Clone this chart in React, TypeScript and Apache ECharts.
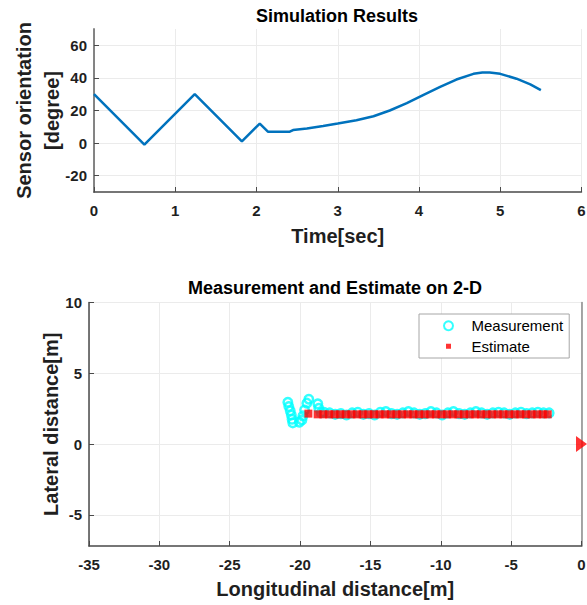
import React, { useEffect, useRef } from "react";
import * as echarts from "echarts";

// ---- Top plot data ----
const timeSec = [0, 0.62, 1.24, 1.82, 2.04, 2.14, 2.41, 2.45, 2.62, 2.82, 3.0, 3.23, 3.44, 3.64, 3.85, 4.05, 4.26, 4.46, 4.67, 4.78, 4.87, 5.0, 5.2, 5.37, 5.5];
const orientationDeg = [30, -1, 30, 1, 12, 7, 7, 8, 9, 10.5, 12, 14, 16.5, 20, 24.5, 29.5, 34.5, 39, 42.5, 43.3, 43.3, 42.5, 39.5, 36, 32.5];
const timeTicks = [0, 1, 2, 3, 4, 5, 6];
const orientationTicks = [-20, 0, 20, 40, 60];

// ---- Bottom plot data ----
const measurementPoints: [number, number][] = [
  [-20.87, 2.95], [-20.8, 2.65], [-20.7, 2.35], [-20.62, 2.05], [-20.57, 1.75], [-20.52, 1.5],
  [-20.05, 1.55], [-19.87, 1.7], [-19.8, 1.99], [-19.68, 2.41], [-19.52, 2.89], [-19.38, 3.17],
  [-18.74, 2.84], [-18.67, 2.53], [-18.5, 2.22],
  [-18.3, 2.25], [-17.9, 2.2], [-17.5, 2.1], [-17.1, 2.15], [-16.7, 2.05], [-16.3, 2.2],
  [-15.9, 2.25], [-15.5, 2.1], [-15.1, 2.15], [-14.7, 2.05], [-14.3, 2.25], [-13.9, 2.3],
  [-13.5, 2.15], [-13.1, 2.1], [-12.7, 2.2], [-12.3, 2.3], [-11.9, 2.2], [-11.5, 2.1],
  [-11.1, 2.15], [-10.7, 2.3], [-10.3, 2.2], [-9.9, 2.05], [-9.5, 2.2], [-9.1, 2.3],
  [-8.7, 2.15], [-8.3, 2.1], [-7.9, 2.2], [-7.5, 2.3], [-7.1, 2.2], [-6.7, 2.1],
  [-6.3, 2.2], [-5.9, 2.25], [-5.5, 2.2], [-5.1, 2.1], [-4.7, 2.2], [-4.3, 2.25],
  [-3.9, 2.15], [-3.5, 2.2], [-3.1, 2.25], [-2.7, 2.2], [-2.3, 2.2],
];
const estimatePoints: [number, number][] = [
  [-19.41, 2.15],
  [-18.75, 2.1], [-18.35, 2.1], [-17.95, 2.1], [-17.55, 2.1], [-17.15, 2.1], [-16.75, 2.1],
  [-16.35, 2.1], [-15.95, 2.1], [-15.55, 2.1], [-15.15, 2.1], [-14.75, 2.1], [-14.35, 2.1],
  [-13.95, 2.1], [-13.55, 2.1], [-13.15, 2.1], [-12.75, 2.1], [-12.35, 2.1], [-11.95, 2.1],
  [-11.55, 2.1], [-11.15, 2.1], [-10.75, 2.1], [-10.35, 2.1], [-9.95, 2.1], [-9.55, 2.1],
  [-9.15, 2.1], [-8.75, 2.1], [-8.35, 2.1], [-7.95, 2.1], [-7.55, 2.1], [-7.15, 2.1],
  [-6.75, 2.1], [-6.35, 2.1], [-5.95, 2.1], [-5.55, 2.1], [-5.15, 2.1], [-4.75, 2.1],
  [-4.35, 2.1], [-3.95, 2.1], [-3.55, 2.1], [-3.15, 2.1], [-2.75, 2.1], [-2.4, 2.1],
];
const sensorPoint: [number, number][] = [[0, 0]];
const lateralTicks = [-5, 0, 5, 10];

const FONT = "'Liberation Sans', Arial, sans-serif";
const TICK_COLOR = "#1f1f1f";
const GRID_COLOR = "#ebebeb";
const AXIS_COLOR = "#4a4a4a";

export default function App() {
  const ref = useRef<HTMLDivElement>(null);
  useEffect(() => {
    if (!ref.current) return;
    const chart = echarts.init(ref.current, undefined, { renderer: "svg" });
    const tickLabel = {
      fontFamily: FONT,
      fontWeight: "bold" as const,
      fontSize: 15,
      color: TICK_COLOR,
    };
    const nameStyle = {
      fontFamily: FONT,
      fontWeight: "bold" as const,
      fontSize: 20,
      color: TICK_COLOR,
    };
    const borderAxis = (gridIndex: number, min: number, max: number) => ({
      type: "value",
      gridIndex,
      position: "right",
      min,
      max,
      axisLine: { show: true, lineStyle: { color: "#8a8a8a", width: 1.5 } },
      axisLabel: { show: false },
      axisTick: { show: false },
      splitLine: { show: false },
    });
    chart.setOption({
      animation: false,
      backgroundColor: "#ffffff",
      title: [
        {
          text: "Simulation Results",
          left: 337,
          top: 7,
          padding: 0,
          textAlign: "center",
          textStyle: { fontFamily: FONT, fontWeight: "bold", fontSize: 18, color: "#000" },
        },
        {
          text: "Measurement and Estimate on 2-D",
          left: 335,
          top: 279,
          padding: 0,
          textAlign: "center",
          textStyle: { fontFamily: FONT, fontWeight: "bold", fontSize: 18, color: "#000" },
        },
      ],
      grid: [
        { left: 94, top: 29, width: 487.5, height: 163, containLabel: false, outerBoundsMode: "none" },
        { left: 89, top: 302.5, width: 492.5, height: 243.5, containLabel: false, outerBoundsMode: "none" },
      ],
      legend: {
        left: 419,
        top: 314,
        orient: "vertical",
        padding: [4.25, 6, 4.25, 24],
        itemGap: 5.5,
        itemWidth: 36,
        itemHeight: 9,
        borderColor: "#a6a6a6",
        borderWidth: 1,
        backgroundColor: "#ffffff",
        textStyle: { fontFamily: FONT, fontSize: 15, color: "#000" },
        data: [
          { name: "Measurement", icon: "circle" },
          { name: "Estimate", icon: "path://M0,0M10,10M2.2,2.2H7.8V7.8H2.2Z" },
        ],
      },
      xAxis: [
        {
          type: "value",
          gridIndex: 0,
          min: 0,
          max: 6,
          interval: 1,
          name: "Time[sec]",
          nameLocation: "middle",
          nameGap: 34,
          nameMoveOverlap: false,
          nameTextStyle: nameStyle,
          axisLine: { onZero: false, lineStyle: { color: AXIS_COLOR, width: 1.5 } },
          axisTick: { inside: true, length: 5, lineStyle: { color: AXIS_COLOR } },
          axisLabel: { ...tickLabel, margin: 11, customValues: timeTicks },
          splitLine: { show: true, lineStyle: { color: GRID_COLOR, width: 1 } },
        },
        {
          type: "value",
          gridIndex: 1,
          min: -35,
          max: 0,
          interval: 5,
          name: "Longitudinal distance[m]",
          nameLocation: "middle",
          nameGap: 33,
          nameMoveOverlap: false,
          nameTextStyle: nameStyle,
          axisLine: { onZero: false, lineStyle: { color: AXIS_COLOR, width: 1.5 } },
          axisTick: { inside: true, length: 5, lineStyle: { color: AXIS_COLOR } },
          axisLabel: { ...tickLabel, margin: 11 },
          splitLine: { show: true, lineStyle: { color: GRID_COLOR, width: 1 } },
        },
      ],
      yAxis: [
        {
          type: "value",
          gridIndex: 0,
          min: -30,
          max: 70,
          name: "Sensor orientation\n[degree]",
          nameLocation: "middle",
          nameGap: 28,
          nameMoveOverlap: false,
          nameTextStyle: { ...nameStyle, lineHeight: 28 },
          axisLine: { onZero: false, lineStyle: { color: AXIS_COLOR, width: 1.5 } },
          axisTick: { inside: true, length: 5, lineStyle: { color: AXIS_COLOR }, customValues: orientationTicks },
          axisLabel: { ...tickLabel, margin: 7, customValues: orientationTicks },
          splitLine: { show: true, lineStyle: { color: GRID_COLOR, width: 1 } },
        },
        {
          type: "value",
          gridIndex: 1,
          min: -7.2,
          max: 10,
          name: "Lateral distance[m]",
          nameLocation: "middle",
          nameGap: 28,
          nameMoveOverlap: false,
          nameTextStyle: nameStyle,
          axisLine: { onZero: false, lineStyle: { color: AXIS_COLOR, width: 1.5 } },
          axisTick: { inside: true, length: 5, lineStyle: { color: AXIS_COLOR }, customValues: lateralTicks },
          axisLabel: { ...tickLabel, margin: 7, customValues: lateralTicks },
          splitLine: { show: true, lineStyle: { color: GRID_COLOR, width: 1 } },
        },
        borderAxis(0, -30, 70),
        borderAxis(1, -7.2, 10),
      ],
      series: [
        {
          name: "Sensor orientation",
          type: "line",
          xAxisIndex: 0,
          yAxisIndex: 0,
          data: timeSec.map((t, i) => [t, orientationDeg[i]]),
          showSymbol: false,
          lineStyle: { color: "#0072BD", width: 2.5 },
          itemStyle: { color: "#0072BD" },
        },
        {
          name: "Measurement",
          type: "scatter",
          xAxisIndex: 1,
          yAxisIndex: 1,
          data: measurementPoints,
          symbol: "circle",
          symbolSize: 8.5,
          itemStyle: { color: "rgba(0,0,0,0)", borderColor: "#00ffff", borderWidth: 2.5 },
        },
        {
          name: "Estimate",
          type: "scatter",
          xAxisIndex: 1,
          yAxisIndex: 1,
          data: estimatePoints,
          symbol: "rect",
          symbolSize: 8,
          itemStyle: { color: "#ff0000" },
        },
        {
          name: "Sensor",
          type: "scatter",
          xAxisIndex: 1,
          yAxisIndex: 1,
          data: sensorPoint,
          symbol: "triangle",
          symbolRotate: -90,
          symbolSize: [16, 11],
          clip: false,
          itemStyle: { color: "#ff0000" },
        },
      ],
    });
    return () => chart.dispose();
  }, []);
  return (
    <div
      ref={ref}
      style={{ position: "fixed", left: 0, top: 0, width: 587, height: 605, background: "#fff" }}
    />
  );
}
